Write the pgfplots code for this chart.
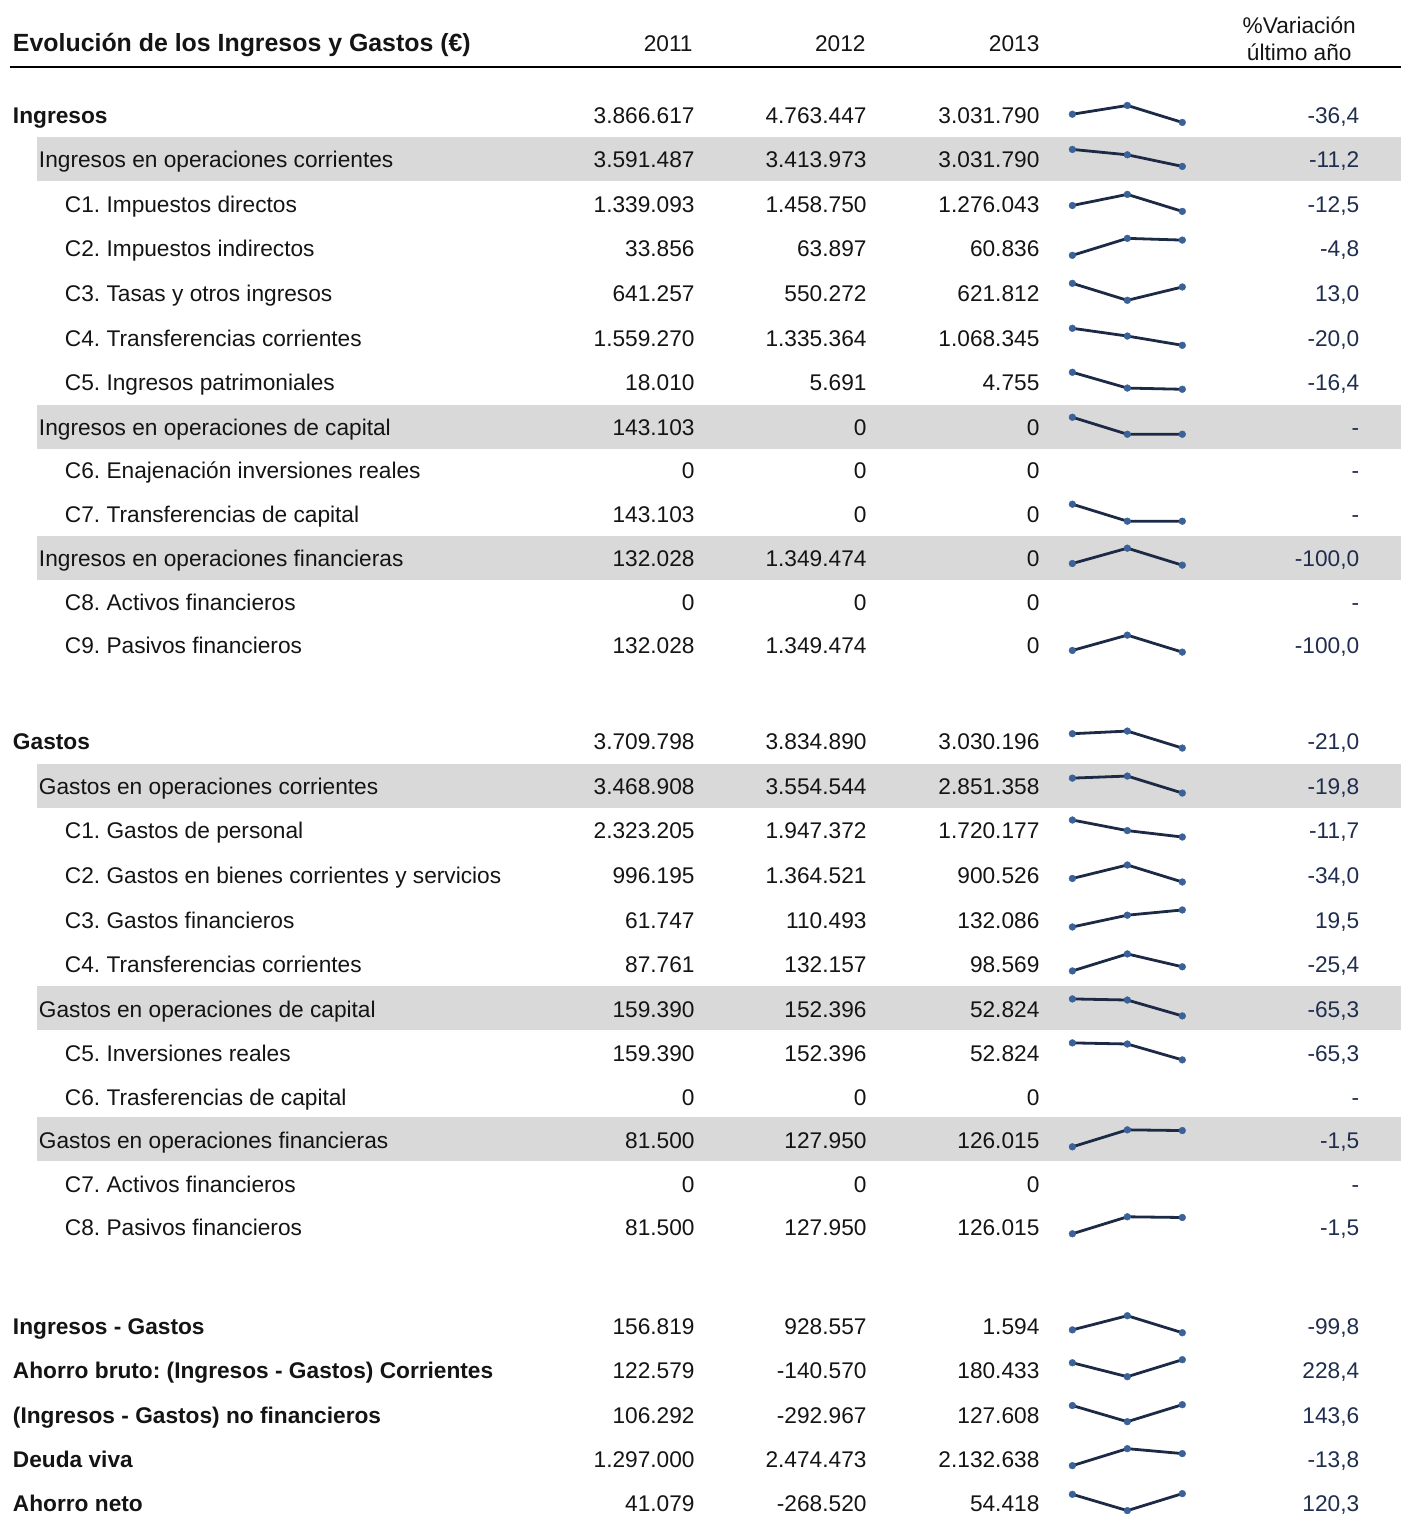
\documentclass[border=0pt]{standalone}
\usepackage{pgfplots}
\pgfplotsset{compat=1.18}
\usepackage{fontspec}
\setmainfont{Liberation Sans}
\frenchspacing
\definecolor{bandgray}{RGB}{217,217,217}
\definecolor{sparkline}{RGB}{28,42,70}
\definecolor{sparkmark}{RGB}{58,98,152}
\definecolor{vartext}{RGB}{31,45,78}
\definecolor{numtext}{RGB}{20,20,20}
\pgfplotsset{spark/.style={width=55pt,height=8.5pt,scale only axis,hide axis,
  enlargelimits=false,xmin=0,xmax=2,clip=false,anchor=south west}}
% sparkline: #1 = row centre (px), #2-#4 = 2011, 2012, 2013
\newcommand\spark[4]{%
\begin{axis}[spark, at={(536.5pt,{-(#1+6.5)*0.5pt})}]
\addplot[color=sparkline, line width=1.4pt, mark=*, mark size=1.7pt,
  mark options={fill=sparkmark, draw=sparkmark, line width=0.2pt}]
  coordinates {(0,#2) (1,#3) (2,#4)};
\end{axis}}
\newcommand\vals[5]{%
\node[num] at (695,#1+8) {#2};
\node[num] at (867,#1+8) {#3};
\node[num] at (1040,#1+8) {#4};
\node[var] at (1360,#1+8) {#5};}
\begin{document}
\begin{tikzpicture}
\begin{scope}[x=0.5pt,y=-0.5pt,
  every node/.style={font=\fontsize{11.35}{13.6}\selectfont, inner sep=0pt, outer sep=0pt},
  num/.style={anchor=base east, text=numtext},
  var/.style={anchor=base east, text=vartext},
  lab/.style={anchor=base west, text=numtext}]
\useasboundingbox (0,0) rectangle (1402,1514);
% grey bands
\foreach \c in {160,428,559,787,1010,1141}
  \fill[bandgray] (37,\c-23) rectangle (1402,\c+21);
% header
\node[lab, font=\fontsize{12.45}{14}\selectfont\bfseries] at (13,52) {Evolución de los Ingresos y Gastos (€)};
\node[num] at (693,52) {2011};
\node[num] at (866,52) {2012};
\node[num] at (1040,52) {2013};
\node[anchor=base, text=numtext] at (1300,34) {\%Variación};
\node[anchor=base, text=numtext] at (1300,61) {último año};
\draw[line width=1.25pt, black] (10,67) -- (1402,67);
% Ingresos block
\node[lab] at (13,124) {\bfseries Ingresos};                 \vals{116}{3.866.617}{4.763.447}{3.031.790}{-36,4}
\node[lab] at (39,168) {Ingresos en operaciones corrientes}; \vals{160}{3.591.487}{3.413.973}{3.031.790}{-11,2}
\node[lab] at (65,213) {C1. Impuestos directos};             \vals{205}{1.339.093}{1.458.750}{1.276.043}{-12,5}
\node[lab] at (65,257) {C2. Impuestos indirectos};           \vals{249}{33.856}{63.897}{60.836}{-4,8}
\node[lab] at (65,302) {C3. Tasas y otros ingresos};         \vals{294}{641.257}{550.272}{621.812}{13,0}
\node[lab] at (65,347) {C4. Transferencias corrientes};      \vals{339}{1.559.270}{1.335.364}{1.068.345}{-20,0}
\node[lab] at (65,391) {C5. Ingresos patrimoniales};         \vals{383}{18.010}{5.691}{4.755}{-16,4}
\node[lab] at (39,436) {Ingresos en operaciones de capital}; \vals{428}{143.103}{0}{0}{-}
\node[lab] at (65,479) {C6. Enajenación inversiones reales}; \vals{471}{0}{0}{0}{-}
\node[lab] at (65,523) {C7. Transferencias de capital};      \vals{515}{143.103}{0}{0}{-}
\node[lab] at (39,567) {Ingresos en operaciones financieras};\vals{559}{132.028}{1.349.474}{0}{-100,0}
\node[lab] at (65,611) {C8. Activos financieros};            \vals{603}{0}{0}{0}{-}
\node[lab] at (65,654) {C9. Pasivos financieros};            \vals{646}{132.028}{1.349.474}{0}{-100,0}
% Gastos block
\node[lab] at (13,750) {\bfseries Gastos};                   \vals{742}{3.709.798}{3.834.890}{3.030.196}{-21,0}
\node[lab] at (39,795) {Gastos en operaciones corrientes};   \vals{787}{3.468.908}{3.554.544}{2.851.358}{-19,8}
\node[lab] at (65,839) {C1. Gastos de personal};             \vals{831}{2.323.205}{1.947.372}{1.720.177}{-11,7}
\node[lab] at (65,884) {C2. Gastos en bienes corrientes y servicios}; \vals{876}{996.195}{1.364.521}{900.526}{-34,0}
\node[lab] at (65,929) {C3. Gastos financieros};             \vals{921}{61.747}{110.493}{132.086}{19,5}
\node[lab] at (65,973) {C4. Transferencias corrientes};      \vals{965}{87.761}{132.157}{98.569}{-25,4}
\node[lab] at (39,1018) {Gastos en operaciones de capital};  \vals{1010}{159.390}{152.396}{52.824}{-65,3}
\node[lab] at (65,1062) {C5. Inversiones reales};            \vals{1054}{159.390}{152.396}{52.824}{-65,3}
\node[lab] at (65,1106) {C6. Trasferencias de capital};      \vals{1098}{0}{0}{0}{-}
\node[lab] at (39,1149) {Gastos en operaciones financieras}; \vals{1141}{81.500}{127.950}{126.015}{-1,5}
\node[lab] at (65,1193) {C7. Activos financieros};           \vals{1185}{0}{0}{0}{-}
\node[lab] at (65,1236) {C8. Pasivos financieros};           \vals{1228}{81.500}{127.950}{126.015}{-1,5}
% totals
\node[lab] at (13,1335) {\bfseries Ingresos - Gastos};       \vals{1327}{156.819}{928.557}{1.594}{-99,8}
\node[lab] at (13,1379) {\bfseries Ahorro bruto: (Ingresos - Gastos) Corrientes}; \vals{1371}{122.579}{-140.570}{180.433}{228,4}
\node[lab] at (13,1424) {\bfseries (Ingresos - Gastos) no financieros}; \vals{1416}{106.292}{-292.967}{127.608}{143,6}
\node[lab] at (13,1468) {\bfseries Deuda viva};              \vals{1460}{1.297.000}{2.474.473}{2.132.638}{-13,8}
\node[lab] at (13,1512) {\bfseries Ahorro neto};             \vals{1504}{41.079}{-268.520}{54.418}{120,3}
\end{scope}
% sparklines
\spark{116}{3866617}{4763447}{3031790}
\spark{160}{3591487}{3413973}{3031790}
\spark{205}{1339093}{1458750}{1276043}
\spark{249}{33856}{63897}{60836}
\spark{294}{641257}{550272}{621812}
\spark{339}{1559270}{1335364}{1068345}
\spark{383}{18010}{5691}{4755}
\spark{428}{143103}{0}{0}
\spark{515}{143103}{0}{0}
\spark{559}{132028}{1349474}{0}
\spark{646}{132028}{1349474}{0}
\spark{742}{3709798}{3834890}{3030196}
\spark{787}{3468908}{3554544}{2851358}
\spark{831}{2323205}{1947372}{1720177}
\spark{876}{996195}{1364521}{900526}
\spark{921}{61747}{110493}{132086}
\spark{965}{87761}{132157}{98569}
\spark{1010}{159390}{152396}{52824}
\spark{1054}{159390}{152396}{52824}
\spark{1141}{81500}{127950}{126015}
\spark{1228}{81500}{127950}{126015}
\spark{1327}{156819}{928557}{1594}
\spark{1371}{122579}{-140570}{180433}
\spark{1416}{106292}{-292967}{127608}
\spark{1460}{1297000}{2474473}{2132638}
\spark{1505}{41079}{-268520}{54418}
\end{tikzpicture}
\end{document}
